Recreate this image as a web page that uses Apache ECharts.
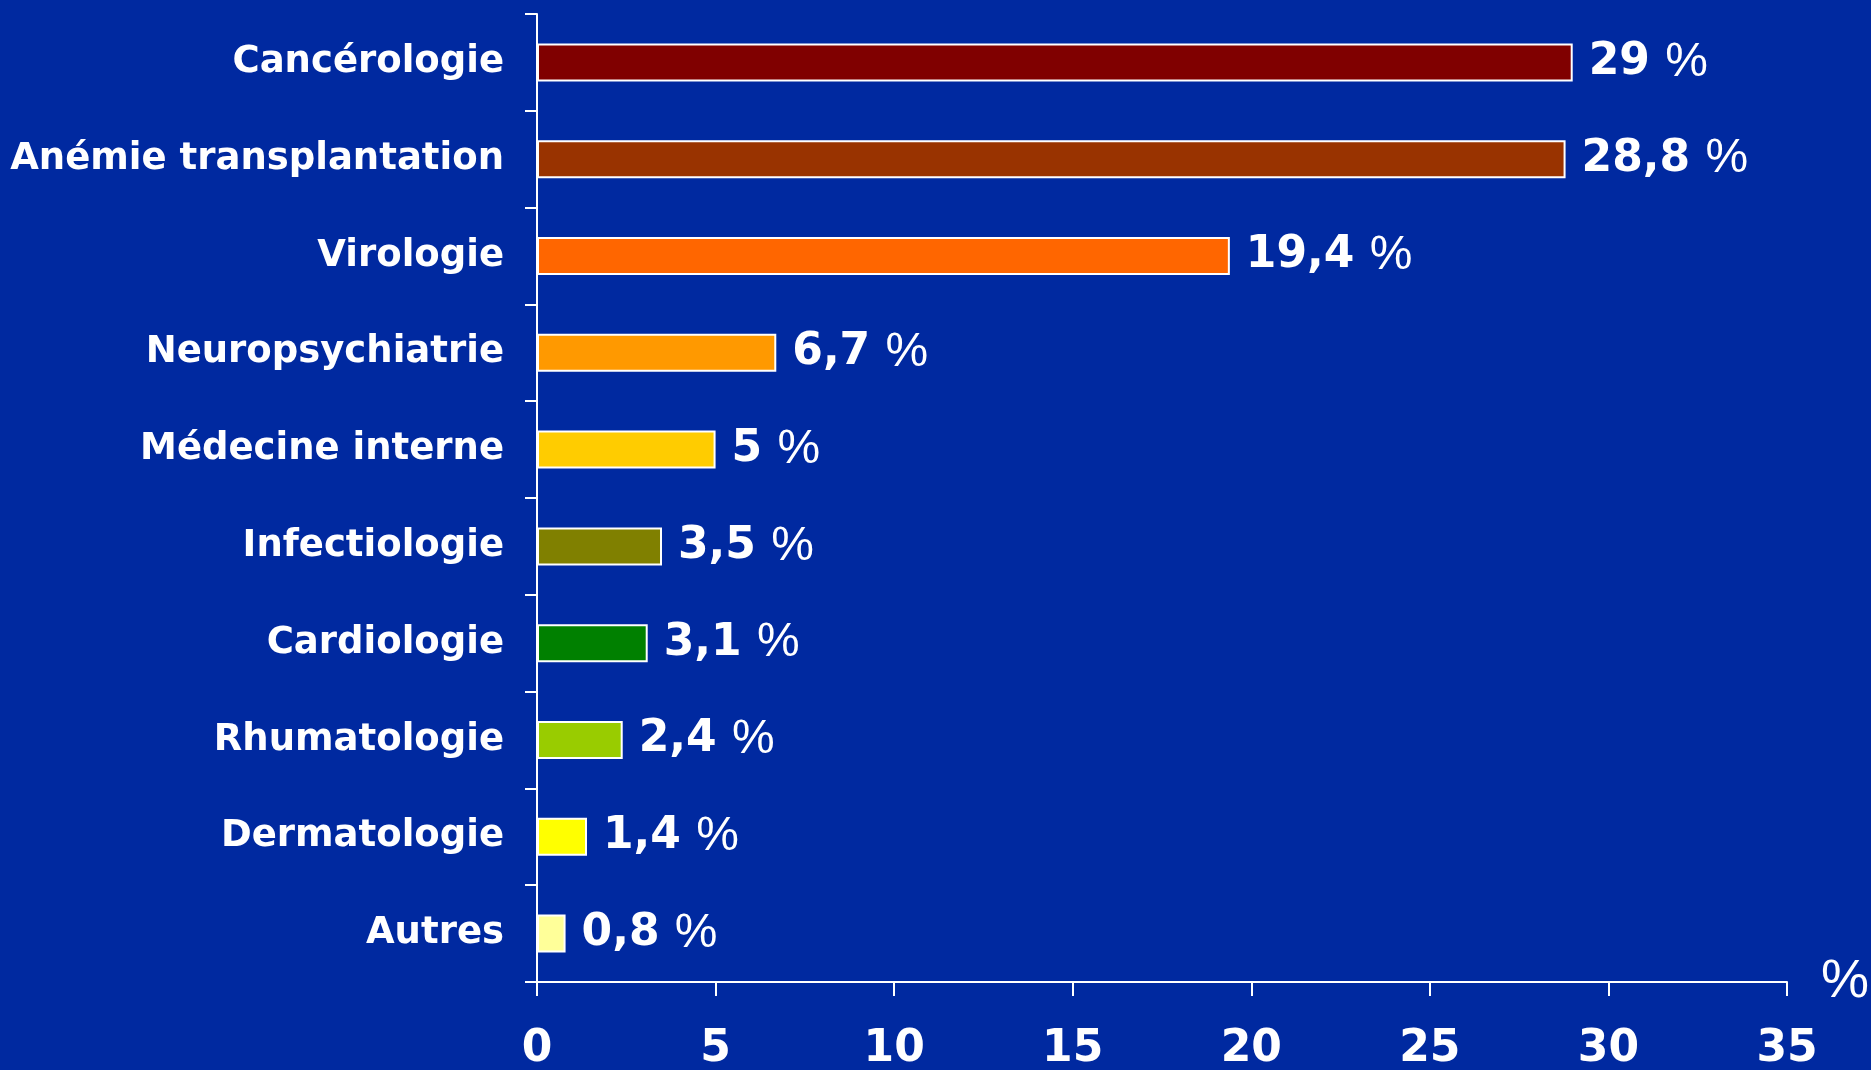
<!DOCTYPE html>
<html>
<head>
<meta charset="utf-8">
<script src="https://cdn.jsdelivr.net/npm/echarts@6/dist/echarts.min.js"></script>
<style>
  html, body { margin: 0; padding: 0; background: #0029a0; }
  #chart { width: 1871px; height: 1070px; }
</style>
</head>
<body>
<div id="chart"></div>
<script>
const categories = ['Cancérologie', 'Anémie transplantation', 'Virologie', 'Neuropsychiatrie',
  'Médecine interne', 'Infectiologie', 'Cardiologie', 'Rhumatologie', 'Dermatologie', 'Autres']
const values = [29, 28.8, 19.4, 6.7, 5, 3.5, 3.1, 2.4, 1.4, 0.8]
const barColors = ['#800000', '#993300', '#ff6600', '#ff9900', '#ffcc00',
  '#808000', '#008000', '#99cc00', '#ffff00', '#ffff99']
const xTicks = [0, 5, 10, 15, 20, 25, 30, 35]

const boldFont = 'DejaVu Sans, Liberation Sans, sans-serif'
const thinFont = 'Liberation Sans, Arial, sans-serif'

const chart = echarts.init(document.getElementById('chart'))

chart.setOption({
  backgroundColor: '#0029a0',
  animation: false,
  grid: { left: 537, right: 84, top: 14, bottom: 88, containLabel: false, outerBoundsMode: 'none' },
  xAxis: {
    type: 'value',
    min: xTicks[0],
    max: xTicks[xTicks.length - 1],
    interval: 5,
    name: '%',
    nameLocation: 'end',
    nameGap: 34,
    nameTextStyle: { color: '#fff', fontSize: 54, fontFamily: thinFont, fontWeight: 'normal', padding: [8, 0, 0, 0] },
    axisLine: { show: true, lineStyle: { color: '#fff', width: 2 } },
    axisTick: { show: true, length: 14, lineStyle: { color: '#fff', width: 2 } },
    splitLine: { show: false },
    axisLabel: { color: '#fff', fontSize: 44, fontWeight: 'bold', fontFamily: boldFont, margin: 46 }
  },
  yAxis: {
    type: 'category',
    inverse: true,
    data: categories,
    axisLine: { show: true, lineStyle: { color: '#fff', width: 2 } },
    axisTick: { show: true, length: 12, lineStyle: { color: '#fff', width: 2 } },
    axisLabel: { color: '#fff', fontSize: 37, fontWeight: 'bold', fontFamily: boldFont, margin: 33 }
  },
  series: [{
    type: 'bar',
    barWidth: 38,
    data: values.map((v, i) => ({
      value: v,
      itemStyle: { color: barColors[i], borderColor: '#fff', borderWidth: 2 }
    })),
    label: {
      show: true,
      position: 'right',
      distance: 16,
      formatter: p => '{n|' + String(p.value).replace('.', ',') + ' }{p|%}',
      rich: {
        n: { color: '#fff', fontSize: 44, fontWeight: 'bold', fontFamily: boldFont },
        p: { color: '#fff', fontSize: 48, fontWeight: 'normal', fontFamily: thinFont }
      }
    }
  }]
})
</script>
</body>
</html>
